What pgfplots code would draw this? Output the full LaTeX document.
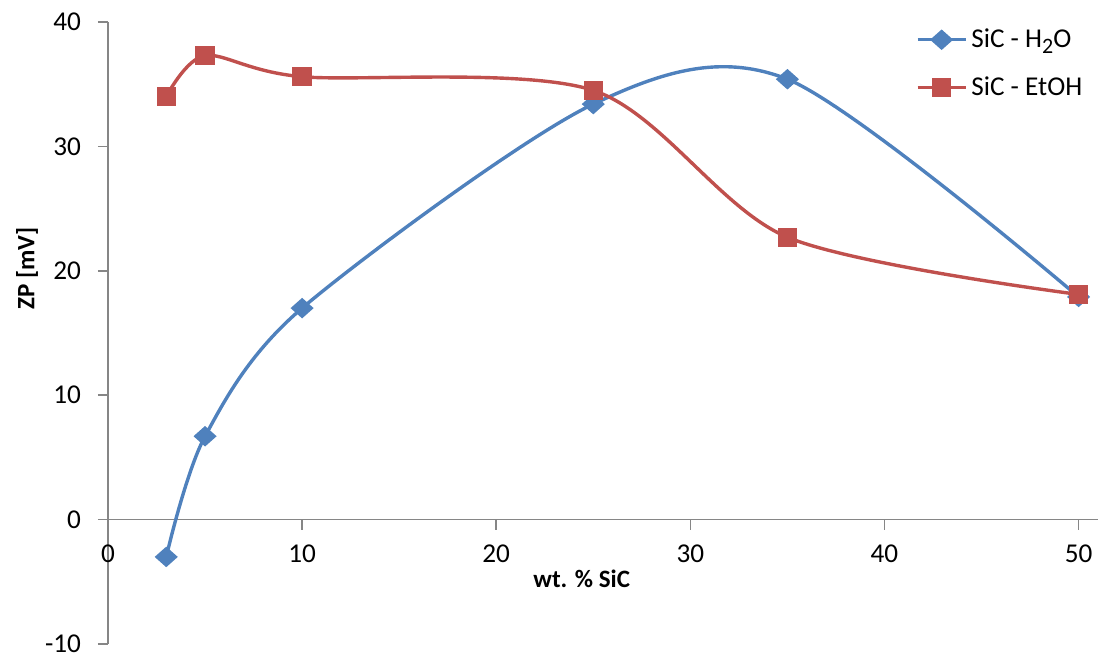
\documentclass[border=0pt]{standalone}
\usepackage{pgfplots}
\pgfplotsset{compat=1.18}
\usepackage{fontspec}
\setmainfont{Carlito}
\usetikzlibrary{calc}
\definecolor{sblue}{HTML}{4F81BD}
\definecolor{sred}{HTML}{C0504D}
\definecolor{axgray}{HTML}{868686}
\begin{document}
\begin{tikzpicture}
\begin{axis}[
  scale only axis, width=495pt, height=311pt,
  xmin=0, xmax=51, ymin=-10, ymax=40,
  axis lines=middle,
  axis line style={-, draw=axgray, line width=0.8pt},
  xtick={0,10,...,50}, ytick={-10,0,...,40},
  tick align=outside, major tick length=5pt,
  tick style={draw=axgray, line width=0.8pt},
  hide obscured x ticks=false, hide obscured y ticks=false,
  ticklabel style={font=\fontsize{13.6}{16}\selectfont, text=black},
  /pgf/number format/assume math mode=true,
  xticklabel style={anchor=north, yshift=-4pt},
  yticklabel style={anchor=east, xshift=-5pt},
  clip=false,
  legend style={draw=none, fill=none, at={(axis cs:41.6,39.8)}, anchor=north west,
    font=\fontsize{13.6}{16}\selectfont, row sep=9pt, inner sep=0pt,
    /tikz/every even column/.append style={column sep=2pt}},
  legend cell align=left,
  legend image code/.code={\draw[mark repeat=2,mark phase=2] plot coordinates {(0pt,0pt)(12pt,0pt)(24pt,0pt)};},
]
\addplot[sblue, line width=1.7pt, smooth, mark=diamond*, mark size=4pt, mark options={xscale=1.5, solid}]
  coordinates {(3,-3.0) (5,6.7) (10,17.0) (25,33.4) (35,35.4) (50,17.9)};
\addlegendentry{SiC - H\raisebox{-0.45ex}{\fontsize{11}{12}\selectfont 2}O}
\addplot[sred, line width=1.7pt, smooth, mark=square*, mark size=4pt, mark options={solid}]
  coordinates {(3,34.0) (5,37.3) (10,35.6) (25,34.5) (35,22.7) (50,18.1)};
\addlegendentry{SiC - EtOH}
\node[font=\bfseries\fontsize{12.5}{14}\selectfont] at (axis cs:24.4,-4.8) {wt. \% SiC};
\node[rotate=90, font=\bfseries\fontsize{12.5}{14}\selectfont] at ([xshift=-40.5pt]axis cs:0,20.2) {ZP [mV]};
\end{axis}
\pgfresetboundingbox
\path ($(current axis.south west)+(-54pt,-6.5pt)$) rectangle ($(current axis.north east)+(2pt,11pt)$);
\end{tikzpicture}
\end{document}
